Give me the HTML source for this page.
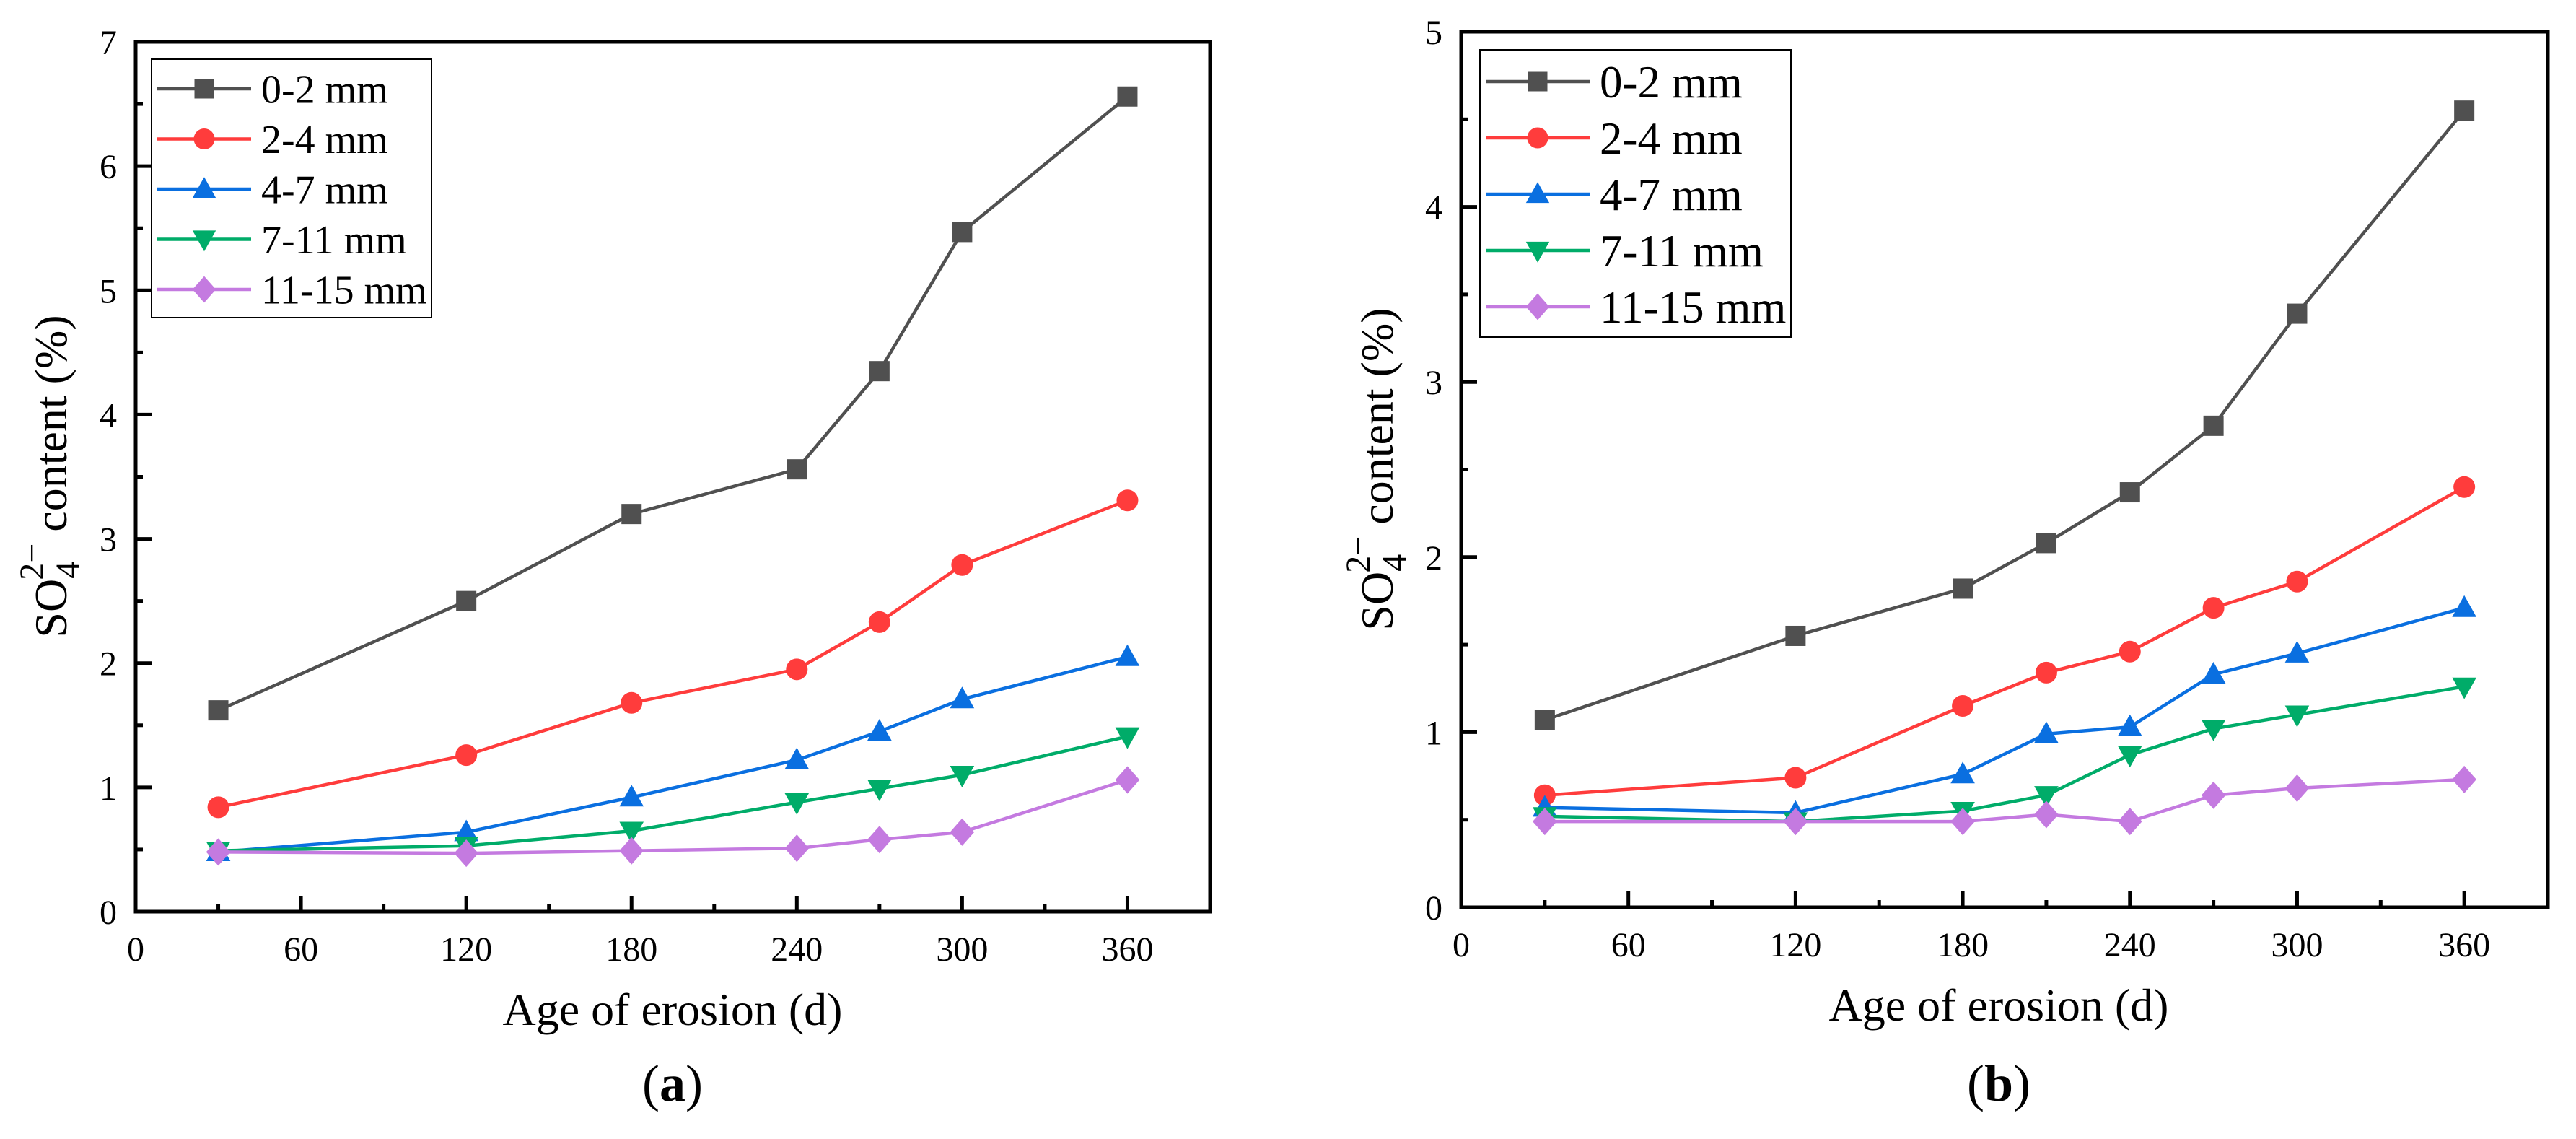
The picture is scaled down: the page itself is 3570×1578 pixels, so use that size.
<!DOCTYPE html>
<html><head><meta charset="utf-8">
<style>
html,body{margin:0;padding:0;background:#fff;}
svg{display:block;font-family:"Liberation Serif",serif;}
</style></head>
<body>
<svg id="fig" width="3570" height="1578" viewBox="0 0 3570 1578" xmlns="http://www.w3.org/2000/svg"></svg>
<script>
const seriesNames = ["0-2 mm","2-4 mm","4-7 mm","7-11 mm","11-15 mm"];
const xTickLabels = [0,60,120,180,240,300,360];
const daysA = [30,120,180,240,270,300,360];
const a02 = [1.62,2.50,3.20,3.56,4.35,5.47,6.56];
const a24 = [0.84,1.26,1.68,1.95,2.33,2.79,3.31];
const a47 = [0.48,0.64,0.92,1.22,1.45,1.71,2.05];
const a711 = [0.49,0.53,0.65,0.88,0.99,1.10,1.41];
const a1115 = [0.48,0.47,0.49,0.51,0.58,0.64,1.06];
const yTicksA = [0,1,2,3,4,5,6,7];
const daysB = [30,120,180,210,240,270,300,360];
const b02 = [1.07,1.55,1.82,2.08,2.37,2.75,3.39,4.55];
const b24 = [0.64,0.74,1.15,1.34,1.46,1.71,1.86,2.40];
const b47 = [0.57,0.54,0.76,0.99,1.03,1.33,1.45,1.71];
const b711 = [0.52,0.49,0.55,0.64,0.87,1.02,1.10,1.26];
const b1115 = [0.49,0.49,0.49,0.53,0.49,0.64,0.68,0.73];
const yTicksB = [0,1,2,3,4,5];

const NS="http://www.w3.org/2000/svg";
const svg=document.getElementById('fig');
const colors=["#505050","#ff3c3c","#0a6fe0","#00ac69","#c47ae0"];
const shapes=["square","circle","up","down","diamond"];
function el(tag,attrs,parent){const e=document.createElementNS(NS,tag);for(const k in attrs)e.setAttribute(k,attrs[k]);(parent||svg).appendChild(e);return e;}
function marker(g,shape,cx,cy,s,color){
  let m;
  if(shape==="square") m=el('rect',{x:cx-s/2,y:cy-s/2,width:s,height:s,fill:color},g);
  else if(shape==="circle") m=el('circle',{cx:cx,cy:cy,r:s/2+1,fill:color},g);
  else if(shape==="up") m=el('polygon',{points:`${cx},${cy-s*0.62} ${cx-s*0.6},${cy+s*0.45} ${cx+s*0.6},${cy+s*0.45}`,fill:color},g);
  else if(shape==="down") m=el('polygon',{points:`${cx},${cy+s*0.62} ${cx-s*0.6},${cy-s*0.45} ${cx+s*0.6},${cy-s*0.45}`,fill:color},g);
  else m=el('polygon',{points:`${cx},${cy-s*0.68} ${cx+s*0.6},${cy} ${cx},${cy+s*0.68} ${cx-s*0.6},${cy}`,fill:color},g);
  return m;
}
function chart(cfg){
  const g=el('g',{});
  
  
  const {L,R,T,B,xmax,ymax}=cfg;
  const xs=v=>L+(R-L)*v/xmax, ys=v=>B-(B-T)*v/ymax;
  cfg.series.forEach((vals,i)=>{
    const sg=el('g',{},g);
    
    
    const pts=vals.map((v,j)=>xs(cfg.days[j])+','+ys(v)).join(' ');
    const pl=el('polyline',{points:pts,fill:'none',stroke:colors[i],'stroke-width':4.5,'stroke-linejoin':'round'},sg);
    
    
    vals.forEach((v,j)=>{const m=marker(sg,shapes[i],xs(cfg.days[j]),ys(v),28,colors[i]);
      
      });
  });
  const fr=el('rect',{x:L,y:T,width:R-L,height:B-T,fill:'none',stroke:'#000','stroke-width':5},g);
  
  
  for(let v=0;v<=xmax;v+=30){
    const major=v%60===0;
    el('line',{x1:xs(v),x2:xs(v),y1:B,y2:B-(major?22:10),stroke:'#000','stroke-width':5},g);
  }
  xTickLabels.forEach(v=>{const t=el('text',{x:xs(v),y:B+68,'text-anchor':'middle','font-size':48},g);t.textContent=v;
    
    });
  for(let v=0;v<=ymax+1e-9;v+=0.5){
    const major=Math.abs(v-Math.round(v))<1e-9;
    el('line',{x1:L,x2:L+(major?22:10),y1:ys(v),y2:ys(v),stroke:'#000','stroke-width':5},g);
  }
  cfg.yTicks.forEach(v=>{const t=el('text',{x:L-26,y:ys(v)+17,'text-anchor':'end','font-size':48},g);t.textContent=v;
    
    });
  const xt=el('text',{x:cfg.xtx,y:B+157,'text-anchor':'middle','font-size':64},g);
  xt.textContent='Age of erosion (d)';
  
  
  const yt=el('text',{transform:`translate(${cfg.ytx},${cfg.yty}) rotate(-90)`,'text-anchor':'middle','font-size':64},g);
  
  
  yt.innerHTML='SO<tspan dy="18" font-size="48">4</tspan><tspan dy="-50" dx="-26" font-size="48">2−</tspan><tspan dy="32"> content (%)</tspan>';
  const pl=el('text',{x:cfg.xtx,y:1525,'text-anchor':'middle','font-size':72},g);
  pl.innerHTML='(<tspan font-weight="bold">'+cfg.label+'</tspan>)';
  
  
  const lg=el('g',{},g);
  
  
  const Lg=cfg.leg;
  el('rect',{x:Lg.x,y:Lg.y,width:Lg.w,height:Lg.h,fill:'#fff',stroke:'#000','stroke-width':2},lg);
  seriesNames.forEach((n,i)=>{
    const e=el('g',{},lg);
    
    
    const cy=Lg.r0+i*Lg.dy;
    el('line',{x1:Lg.x+8,x2:Lg.x+8+Lg.lw,y1:cy,y2:cy,stroke:colors[i],'stroke-width':4.5},e);
    marker(e,shapes[i],Lg.x+8+Lg.lw/2,cy,27,colors[i]);
    const t=el('text',{x:Lg.x+Lg.tx,y:cy+Lg.fs*0.35,'font-size':Lg.fs},e);t.textContent=n;
  });
}
chart({name:'chart-a',L:188,R:1677,T:58,B:1263,xmax:390,ymax:7,days:daysA,series:[a02,a24,a47,a711,a1115],yTicks:yTicksA,
  xtx:932,ytx:92,yty:660,label:'a',
  leg:{x:210,y:82,w:388,h:358,r0:123,dy:69.5,lw:130,tx:152,fs:56}});
chart({name:'chart-b',L:2025,R:3531,T:44,B:1257,xmax:390,ymax:5,days:daysB,series:[b02,b24,b47,b711,b1115],yTicks:yTicksB,
  xtx:2770,ytx:1930,yty:650,label:'b',
  leg:{x:2051,y:69,w:431,h:398,r0:113,dy:78,lw:144,tx:166,fs:63}});
</script>
</body></html>
